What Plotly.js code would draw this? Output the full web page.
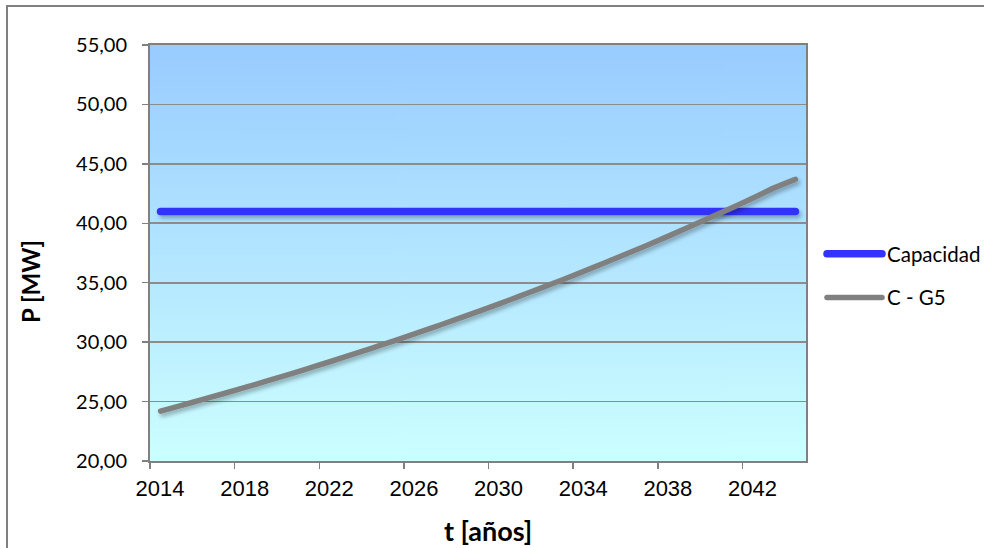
<!DOCTYPE html>
<html>
<head>
<meta charset="utf-8">
<script src="https://cdn.plot.ly/plotly-3.0.1.min.js"></script>
<style>
  html, body { margin: 0; padding: 0; background: #ffffff; }
  #wrap { position: relative; width: 984px; height: 548px; overflow: hidden; }
  #frame { position: absolute; left: 6px; top: 5px; width: 990px; height: 560px; border: 2px solid #808080; box-sizing: border-box; pointer-events: none; z-index: 5; }
  #chart { position: absolute; left: 0; top: 0; width: 984px; height: 548px; }
  .scatterlayer .js-line, .legendlines path { stroke-linecap: round; }
  .scatterlayer .js-line { filter: url(#lineShadow); }
</style>
</head>
<body>
<svg width="0" height="0" style="position:absolute">
  <defs>
    <filter id="lineShadow" filterUnits="userSpaceOnUse" x="-200" y="-200" width="1400" height="1000">
      <feGaussianBlur in="SourceAlpha" stdDeviation="2.2"/>
      <feOffset dx="2" dy="3" result="off"/>
      <feComponentTransfer><feFuncA type="linear" slope="0.3"/></feComponentTransfer>
      <feMerge><feMergeNode/><feMergeNode in="SourceGraphic"/></feMerge>
    </filter>
  </defs>
</svg>
<div id="wrap">
  <div id="chart"></div>
  <div id="frame"></div>
</div>
<script>
// ---- data ----
const years = [2014,2015,2016,2017,2018,2019,2020,2021,2022,2023,2024,2025,2026,2027,2028,2029,2030,2031,2032,2033,2034,2035,2036,2037,2038,2039,2040,2041,2042,2043,2044];
const capacidad = [41,41,41,41,41,41,41,41,41,41,41,41,41,41,41,41,41,41,41,41,41,41,41,41,41,41,41,41,41,41,41];
const cG5 = [24.20,24.68,25.18,25.68,26.19,26.72,27.25,27.80,28.35,28.92,29.50,30.09,30.69,31.31,31.93,32.57,33.22,33.89,34.56,35.25,35.96,36.68,37.41,38.16,38.92,39.70,40.50,41.31,42.13,42.98,43.70];
const seriesNames = ['Capacidad', 'C - G5'];
const xTickVals = [2014,2018,2022,2026,2030,2034,2038,2042];
const yTickVals = [20,25,30,35,40,45,50,55];
const xTitle = 't [años]';
const yTitle = 'P [MW]';

// points sit in the middle of each year
const xMid = years.map(y => y + 0.5);

// gradient background image for the plot area
function gradientURL() {
  const c = document.createElement('canvas');
  c.width = 4; c.height = 256;
  const g = c.getContext('2d');
  const gr = g.createLinearGradient(0, 0, 0, 256);
  gr.addColorStop(0, '#99CCFF');
  gr.addColorStop(1, '#CCFFFF');
  g.fillStyle = gr;
  g.fillRect(0, 0, 4, 256);
  return c.toDataURL('image/png');
}

const calibriLike = 'Lato, "Open Sans", sans-serif';
const arialLike = 'Arial, "Liberation Sans", sans-serif';

const traces = [
  {
    x: xMid, y: capacidad, name: seriesNames[0], type: 'scatter', mode: 'lines',
    line: { color: '#3333FF', width: 7.5 }, legendgroup: 'a'
  },
  {
    x: xMid, y: cG5, name: seriesNames[1], type: 'scatter', mode: 'lines',
    line: { color: '#808080', width: 5.5, shape: 'spline' }, legendgroup: 'b'
  }
];

const layout = {
  width: 984, height: 548,
  margin: { l: 150, r: 178, t: 45, b: 87 },
  paper_bgcolor: 'rgba(0,0,0,0)',
  plot_bgcolor: 'rgba(0,0,0,0)',
  separators: ',.',
  showlegend: true,
  legend: {
    xref: 'container', yref: 'container',
    x: 822 / 984, xanchor: 'left', y: (548 - 234) / 548, yanchor: 'top',
    font: { family: calibriLike, size: 20.5, color: '#000' },
    itemwidth: 55, tracegroupgap: 14, traceorder: 'grouped',
    bgcolor: 'rgba(0,0,0,0)'
  },
  xaxis: {
    range: [2014, 2045], tickmode: 'array', tickvals: xTickVals,
    showgrid: false, zeroline: false,
    showline: true, linecolor: '#808080', linewidth: 2, mirror: true,
    ticks: 'outside', ticklen: 6, tickcolor: '#808080', tickwidth: 1.5,
    ticklabelshift: 10, ticklabelstandoff: 1,
    tickfont: { family: arialLike, size: 22, color: '#000' }
  },
  yaxis: {
    range: [20, 55], tickmode: 'array', tickvals: yTickVals, tickformat: '.2f',
    showgrid: true, gridcolor: '#8C8C8C', gridwidth: 1.6, zeroline: false,
    showline: true, linecolor: '#808080', linewidth: 2, mirror: true,
    ticks: 'outside', ticklen: 6, tickcolor: '#808080', tickwidth: 1.5,
    ticklabelstandoff: 11,
    tickfont: { family: calibriLike, size: 20, color: '#000' }
  },
  images: [{
    source: gradientURL(), xref: 'paper', yref: 'paper',
    x: 0, y: 1, sizex: 1, sizey: 1, xanchor: 'left', yanchor: 'top',
    sizing: 'stretch', layer: 'below'
  }],
  annotations: [
    { text: '<b>' + xTitle + '</b>', xref: 'paper', yref: 'paper',
      x: (488 - 150) / 656, y: -(530 - 461) / 416, xanchor: 'center', yanchor: 'middle',
      showarrow: false, font: { family: calibriLike, size: 27, color: '#000' } },
    { text: '<b>' + yTitle + '</b>', xref: 'paper', yref: 'paper',
      x: -(150 - 30) / 656, y: (461 - 282) / 416, xanchor: 'center', yanchor: 'middle',
      textangle: -90, showarrow: false, font: { family: calibriLike, size: 24, color: '#000' } }
  ]
};

Plotly.newPlot('chart', traces, layout, { staticPlot: true, displayModeBar: false });
</script>
</body>
</html>
